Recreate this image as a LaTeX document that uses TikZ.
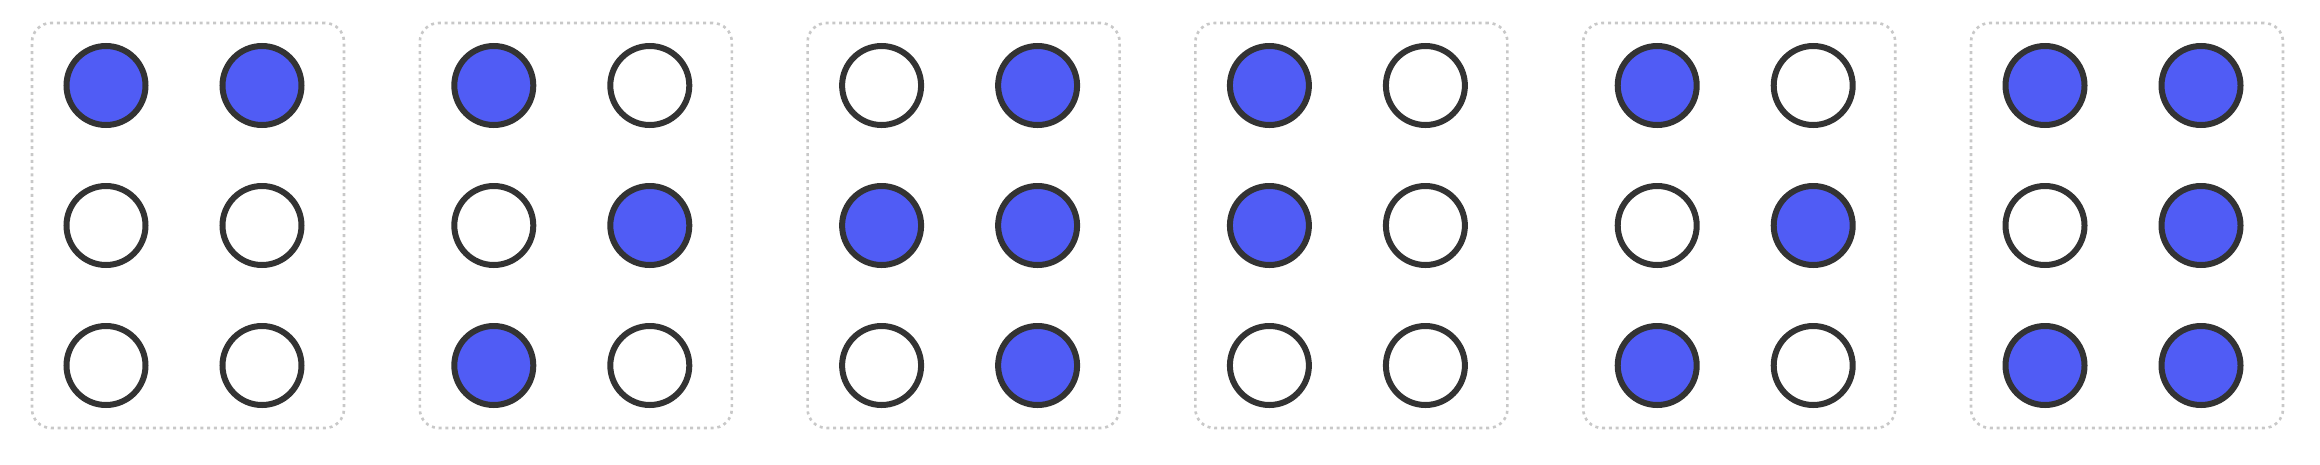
\documentclass[tikz,border=0pt]{standalone}
\usepackage{xcolor}
\usepackage{tikz}
\definecolor{dotblue}{RGB}{80,92,245}
\definecolor{dotrim}{RGB}{51,51,51}
\definecolor{cellgrey}{RGB}{200,200,200}
\colorlet{c0}{white}
\colorlet{c1}{dotblue}

\begin{document}
\begin{tikzpicture}[x=1pt,y=-1pt,
  cell/.style={draw=cellgrey,line width=2.6pt,dash pattern=on 3pt off 3.8pt,
    rounded corners=19pt,minimum width=312pt,minimum height=405pt,inner sep=0},
  dot/.style={circle,draw=dotrim,line width=6pt,minimum size=79pt,inner sep=0}]
\useasboundingbox (0,0) rectangle (2320,464);

% one braille cell per box, dots read row by row
\foreach \i/\p in {1/{1,1,0,0,0,0},2/{1,0,0,1,1,0},3/{0,1,1,1,0,1},
                   4/{1,0,1,0,0,0},5/{1,0,0,1,1,0},6/{1,1,0,1,1,1}} {
  \pgfmathsetmacro{\x}{32+387.8*(\i-1)}
  \node[cell] (b\i) at (\x+156,225.5) {};
  \foreach \v [count=\k from 0] in \p {
    \pgfmathsetmacro{\cx}{\x+74+156*mod(\k,2)}
    \pgfmathsetmacro{\cy}{85.5+140*int(\k/2)}
    \node[dot,fill=c\v] (b\i-\k) at (\cx,\cy) {};
  }
}
\end{tikzpicture}
\end{document}
